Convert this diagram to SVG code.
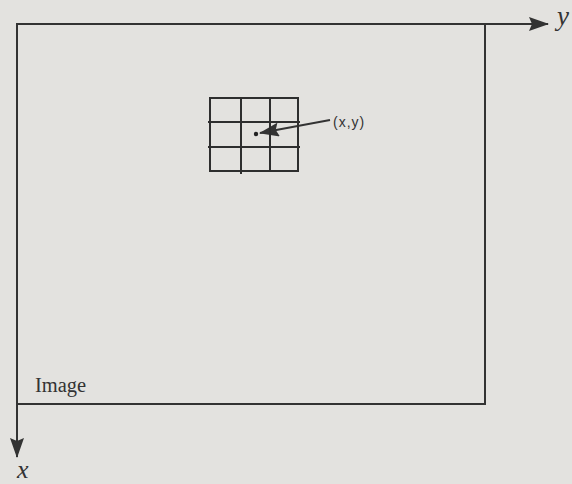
<svg xmlns="http://www.w3.org/2000/svg" width="572" height="484" viewBox="0 0 572 484">
<defs>
<style>
.ln{stroke:#333;stroke-width:2;fill:none}
.gr{stroke:#2e2e2e;stroke-width:2;fill:none}
.sf{font-family:"Liberation Serif","Times New Roman",serif;fill:#333}
.ss{font-family:"Liberation Sans",Arial,sans-serif;fill:#333}
</style>
<marker id="big" markerWidth="20" markerHeight="14" refX="19" refY="7" orient="auto" markerUnits="userSpaceOnUse">
<path d="M0,0 L20,7 L0,14 L3,7 Z" fill="#333"/>
</marker>
</defs>
<rect width="572" height="484" fill="#e3e2df"/>
<g id="connectors">
<line class="ln" x1="16" y1="24" x2="548" y2="24" marker-end="url(#big)"/>
<line class="ln" x1="17" y1="24" x2="17" y2="457" marker-end="url(#big)"/>
<line class="ln" x1="330" y1="120" x2="260" y2="133" stroke-width="2.5" marker-end="url(#big)"/>
</g>
<g id="image">
<polyline class="ln" points="485,24 485,404 17,404"/>
<text class="sf" x="35" y="392" font-size="20.5">Image</text>
</g>
<g id="grid">
<rect class="gr" x="210" y="98" width="88" height="73"/>
<line class="gr" x1="241" y1="98" x2="241" y2="174"/>
<line class="gr" x1="270" y1="98" x2="270" y2="171"/>
<line class="gr" x1="208" y1="122" x2="300" y2="122"/>
<line class="gr" x1="208" y1="147" x2="300" y2="147"/>
<circle cx="256" cy="134" r="2.2" fill="#222"/>
</g>
<g id="labels">
<text class="ss" x="333" y="127" font-size="14" letter-spacing="1">(x,y)</text>
<text class="sf" x="557" y="25" font-size="27" font-style="italic">y</text>
<text class="sf" x="17" y="478" font-size="26" font-style="italic">x</text>
</g>
</svg>
